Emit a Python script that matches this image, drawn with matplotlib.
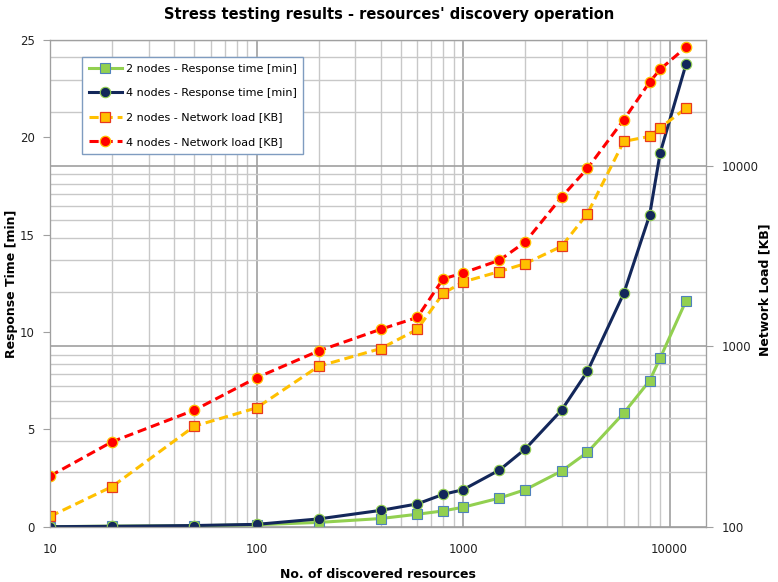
import matplotlib
matplotlib.use("Agg")
import matplotlib.pyplot as plt
from matplotlib.ticker import LogLocator, NullFormatter, FixedLocator, FuncFormatter

plt.rcParams['font.family'] = ['DejaVu Sans']

resources = [10, 20, 50, 100, 200, 400, 600, 800, 1000, 1500, 2000, 3000, 4000, 6000, 8000, 9000, 12000]
rt_2nodes = [0.0, 0.03, 0.05, 0.1, 0.22, 0.42, 0.64, 0.81, 1.0, 1.47, 1.9, 2.86, 3.82, 5.84, 7.5, 8.66, 11.6]
rt_4nodes = [0.0, 0.02, 0.06, 0.12, 0.4, 0.84, 1.17, 1.66, 1.9, 2.91, 3.99, 5.99, 7.98, 11.99, 16.0, 19.2, 23.75]
nl_2nodes = [114, 167, 361, 456, 776, 973, 1242, 1965, 2276, 2600, 2877, 3590, 5447, 13700, 14600, 16300, 20900]
nl_4nodes = [191, 296, 443, 670, 944, 1245, 1446, 2366, 2553, 3004, 3794, 6730, 9700, 18070, 29200, 34400, 45600]

labels = ["2 nodes - Response time [min]", "4 nodes - Response time [min]",
          "2 nodes - Network load [KB]", "4 nodes - Network load [KB]"]

plain = FuncFormatter(lambda v, p: f"{int(round(v))}")

fig = plt.figure(figsize=(7.78, 5.82), dpi=100)
pos = [50/778, (582-526.7)/582, (706-50)/778, (526.7-40)/582]

# background grid axes
bg = fig.add_axes(pos, zorder=0)
bg.set_xscale('log'); bg.set_yscale('log')
bg.set_xlim(10, 15000); bg.set_ylim(100, 50000)
bg.xaxis.set_major_locator(LogLocator(base=10))
bg.xaxis.set_minor_locator(LogLocator(base=10, subs=range(2, 10)))
bg.yaxis.set_major_locator(LogLocator(base=10))
bg.yaxis.set_minor_locator(LogLocator(base=10, subs=range(2, 10)))
bg.grid(which='minor', color='#c8c8c8', lw=1.0)
bg.grid(which='major', color='#a0a0a0', lw=1.2)
bg.tick_params(which='both', length=0, labelleft=False, labelbottom=False)
for s in bg.spines.values():
    s.set_color('#a0a0a0')

ax = fig.add_axes(pos, zorder=1)
ax.patch.set_visible(False)
ax.set_xscale('log')
ax.set_xlim(10, 15000)
ax.set_ylim(0, 25)
ax.yaxis.set_major_locator(FixedLocator([0, 5, 10, 15, 20, 25]))
ax.xaxis.set_major_locator(FixedLocator([10, 100, 1000, 10000]))
ax.xaxis.set_major_formatter(plain)
ax.xaxis.set_minor_formatter(NullFormatter())
ax.tick_params(axis='x', which='both', length=0, labelsize=8.5, pad=12, labelcolor='#222222')
ax.tick_params(axis='y', length=5, color='#a0a0a0', labelsize=8.5, pad=6, labelcolor='#222222')
for s in ax.spines.values():
    s.set_color('#a0a0a0')

l1, = ax.plot(resources, rt_2nodes, color='#92d050', lw=2.2, marker='s', ms=7.5,
              mfc='#92d050', mec='#4f81bd', mew=0.8, label=labels[0])
l2, = ax.plot(resources, rt_4nodes, color='#13275a', lw=2.2, marker='o', ms=7.5,
              mfc='#13275a', mec='#92d050', mew=0.8, label=labels[1])

ax2 = ax.twinx()
ax2.set_yscale('log')
ax2.set_ylim(100, 50000)
ax2.yaxis.set_major_locator(FixedLocator([100, 1000, 10000]))
ax2.yaxis.set_minor_locator(FixedLocator([]))
ax2.yaxis.set_major_formatter(plain)
ax2.tick_params(axis='y', length=5, color='#a0a0a0', labelsize=8.5, pad=6, labelcolor='#222222')
for s in ax2.spines.values():
    s.set_color('#a0a0a0')

l3, = ax2.plot(resources, nl_2nodes, color='#ffc000', lw=2.2, ls=(0, (3, 1.6)), marker='s', ms=7.5,
               mfc='#ffc000', mec='#e8381e', mew=0.9, label=labels[2])
l4, = ax2.plot(resources, nl_4nodes, color='#ff0000', lw=2.2, ls=(0, (3, 1.6)), marker='o', ms=7.5,
               mfc='#ff0000', mec='#ffc000', mew=0.9, label=labels[3])

ax.set_ylabel("Response Time [min]", fontsize=9, fontweight='bold', va='center')
ax.yaxis.set_label_coords((12-50)/656, 0.5)
ax2.set_ylabel("Network Load [KB]", fontsize=9, fontweight='bold', va='center')
ax2.yaxis.set_label_coords((765-50)/656, (526.7-290)/486.7)
ax.set_xlabel("No. of discovered resources", fontsize=9, fontweight='bold', va='center')
ax.xaxis.set_label_coords((378-50)/656, (526.7-574)/486.7)
fig.text(0.5, 1 - 14/582, "Stress testing results - resources' discovery operation",
         ha='center', va='center', fontsize=10.5, fontweight='bold')

leg = ax2.legend(handles=[l1, l2, l3, l4], loc='upper left',
                 bbox_to_anchor=((82-50)/656, 1 - (57-40)/486.7),
                 borderaxespad=0,
                 fontsize=8, frameon=True, fancybox=False, framealpha=1,
                 edgecolor='#7f9cc0', handlelength=3.0, labelspacing=1.3,
                 borderpad=0.6, handletextpad=0.35)
leg.get_frame().set_linewidth(1.0)

fig.savefig("out.png", dpi=100)
